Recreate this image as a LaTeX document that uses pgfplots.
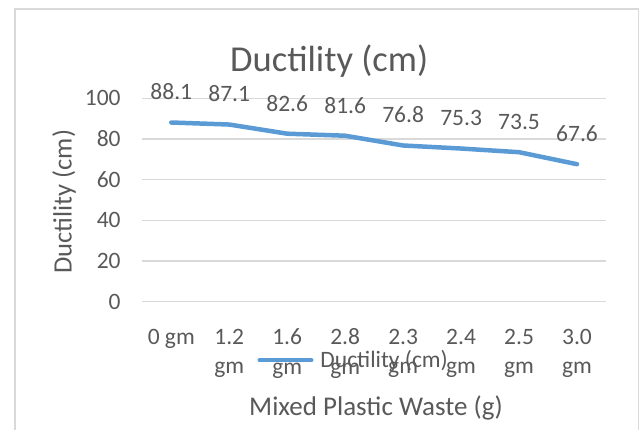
\documentclass[border=0pt]{standalone}
\usepackage{pgfplots}
\pgfplotsset{compat=1.18}
\usepackage{fontspec}
\setmainfont{Carlito}
\definecolor{charttext}{HTML}{595959}
\definecolor{chartgrid}{HTML}{D9D9D9}
\definecolor{chartline}{HTML}{5B9BD5}
\pgfplotstableread{
x y label
0 88.1 88.1
1 87.1 87.1
2 82.6 82.6
3 81.6 81.6
4 76.8 76.8
5 75.3 75.3
6 73.5 73.5
7 67.6 67.6
}\ductility
\begin{document}
\begin{tikzpicture}[x=1pt,y=1pt]
\useasboundingbox (0,0) rectangle (640,-430);
\draw[chartgrid, line width=1.2pt] (15,-440) -- (15,-9) -- (638.5,-9) -- (638.5,-440);
\begin{axis}[
  at={(142.3pt,-301.7pt)}, anchor=south west,
  scale only axis, width=463.7pt, height=203.4pt,
  xmin=-0.5, xmax=7.5, ymin=0, ymax=100,
  enlargelimits=false,
  xtick={0,1,2,3,4,5,6,7},
  xticklabels={0 gm,1.2\\gm,1.6\\gm,2.8\\gm,2.3\\gm,2.4\\gm,2.5\\gm,3.0\\gm},
  ytick={0,20,40,60,80,100},
  major tick length=0pt,
  axis line style={draw=none},
  ymajorgrids,
  major grid style={chartgrid, line width=1.2pt},
  /pgf/number format/assume math mode=true,
  tick label style={font=\fontsize{23.5}{29.3}\selectfont, text=charttext},
  yticklabel style={anchor=east, inner sep=0pt, xshift=-21.5pt},
  xticklabel style={align=center, anchor=north, inner sep=0pt, yshift=-27pt},
  title={Ductility (cm)},
  title style={at={(axis description cs:0.403,1.102)}, anchor=base, font=\fontsize{36.5}{40}\selectfont, text=charttext, inner sep=0pt},
  xlabel={Mixed Plastic Waste (g)},
  xlabel style={at={(axis description cs:0.504,-0.5595)}, anchor=base, font=\fontsize{27}{30}\selectfont, text=charttext, inner sep=0pt},
  ylabel={Ductility (cm)},
  ylabel style={at={(axis description cs:-0.1523,0.492)}, anchor=base, font=\fontsize{26.5}{30}\selectfont, text=charttext, inner sep=0pt},
  legend style={at={(axis description cs:0.248,-0.287)}, anchor=west, draw=none, fill=none,
    font=\fontsize{23.5}{29.3}\selectfont, text=charttext, inner sep=0pt,
    nodes={inner sep=0pt},
    /tikz/every odd column/.append style={column sep=7pt}},
  legend image code/.code={\draw[chartline, line width=4.5pt, line cap=round] (0pt,0pt) -- (51.5pt,0pt);},
]
\addplot[chartline, line width=4.5pt, line cap=round, line join=round, mark=none,
  point meta=explicit symbolic,
  nodes near coords={\pgfplotspointmeta},
  every node near coord/.append style={anchor=center, yshift=30.5pt, text=charttext, font=\fontsize{23.5}{29.3}\selectfont, inner sep=0pt}]
  table[x=x, y=y, meta=label] {\ductility};
\legend{Ductility (cm)}
\end{axis}
\end{tikzpicture}
\end{document}
